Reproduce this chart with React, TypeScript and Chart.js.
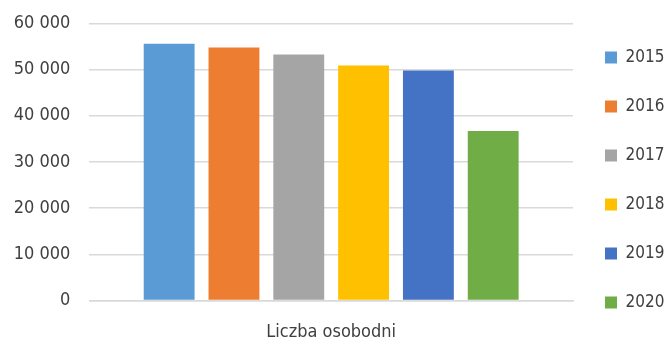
import React, { useEffect, useRef } from "react";
import { Chart, registerables } from "chart.js";

Chart.register(...registerables);

// Single category, one dataset per year
const categories = ["Liczba osobodni"];
const years = ["2015", "2016", "2017", "2018", "2019", "2020"];
const values = [55600, 54800, 53300, 50900, 49800, 36700];
const colors = ["#5B9BD5", "#ED7D31", "#A5A5A5", "#FFC000", "#4472C4", "#70AD47"];
const yTicks = [0, 10000, 20000, 30000, 40000, 50000, 60000];

const FONT = "'DejaVu Sans Condensed', 'Liberation Sans', sans-serif";
const TEXT = "#404040";
const GRID = "#d9d9d9";
const NONE = "rgba(0,0,0,0)";

const formatThousands = (v: number) =>
  String(Math.round(v)).replace(/\B(?=(\d{3})+(?!\d))/g, " ");

export default function App() {
  const ref = useRef<HTMLCanvasElement | null>(null);

  useEffect(() => {
    if (!ref.current) return;
    const chart = new Chart(ref.current, {
      type: "bar",
      data: {
        labels: categories,
        datasets: years.map((y, i) => ({
          label: y,
          data: [values[i]],
          backgroundColor: colors[i],
          borderWidth: 0,
        })),
      },
      options: {
        responsive: false,
        animation: false,
        datasets: {
          bar: { categoryPercentage: 0.804, barPercentage: 0.785 },
        },
        layout: { padding: { left: 1, top: 0, right: 0, bottom: 4 } },
        plugins: {
          tooltip: { enabled: false },
          legend: {
            position: "right",
            align: "end",
            maxWidth: 94,
            labels: {
              boxWidth: 12,
              boxHeight: 12,
              padding: 32,
              color: TEXT,
              font: { family: FONT, size: 17 },
            },
          },
        },
        scales: {
          x: {
            grid: {
              display: true,
              color: NONE,
              drawTicks: true,
              tickLength: 21,
              tickColor: NONE,
            },
            border: { display: true, color: GRID, width: 1.5 },
            ticks: { color: TEXT, font: { family: FONT, size: 18 }, padding: 0 },
          },
          y: {
            min: 0,
            max: 60000,
            afterBuildTicks: (axis: any) => {
              axis.ticks = yTicks.map((v) => ({ value: v }));
            },
            grid: {
              color: GRID,
              lineWidth: 1.5,
              drawTicks: true,
              tickLength: 6.3,
              tickColor: NONE,
            },
            border: { display: false },
            ticks: {
              color: TEXT,
              font: { family: FONT, size: 18 },
              padding: 12.7,
              callback: (v: any) => formatThousands(Number(v)),
            },
          },
        },
      },
    });
    return () => chart.destroy();
  }, []);

  return (
    <canvas
      ref={ref}
      width={667}
      height={347}
      style={{ position: "fixed", left: 0, top: 0, width: 667, height: 347, background: "#fff" }}
    />
  );
}
